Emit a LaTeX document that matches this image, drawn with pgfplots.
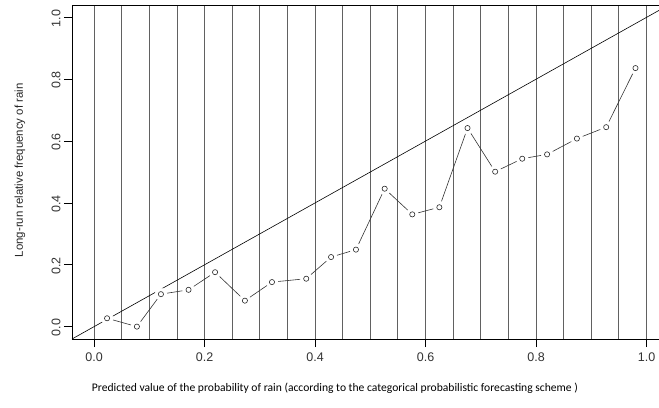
\documentclass[border=0pt]{standalone}
\usepackage{pgfplots}
\pgfplotsset{compat=1.18}
\usepackage{fontspec}
\setmainfont{Liberation Sans}
\newfontfamily\carlito{Carlito}
\begin{document}
\begin{tikzpicture}
\begin{axis}[
  scale only axis,
  width=587bp, height=334bp,
  xmin=-0.04, xmax=1.0226,
  ymin=-0.04, ymax=1.04,
  axis lines=left,
  axis line style={-, black, line width=0.6pt},
  tick align=outside,
  major tick length=8bp,
  minor tick length=0pt,
  tick style={black, line width=0.6pt},
  xtick={0,0.2,0.4,0.6,0.8,1.0},
  minor xtick={0.05,0.1,0.15,0.25,0.3,0.35,0.45,0.5,0.55,0.65,0.7,0.75,0.85,0.9,0.95},
  ytick={0,0.2,0.4,0.6,0.8,1.0},
  xmajorgrids, xminorgrids,
  grid style={color=black!62, line width=0.9pt},
  minor grid style={color=black!62, line width=0.9pt},
  /pgf/number format/assume math mode=true,
  /pgf/number format/fixed,
  /pgf/number format/fixed zerofill,
  /pgf/number format/precision=1,
  xticklabel style={font=\fontsize{12.5bp}{14bp}\selectfont, color=black!80, yshift=-2bp},
  yticklabel style={font=\fontsize{12.5bp}{14bp}\selectfont, color=black!80, rotate=90, anchor=south, xshift=-1bp},
  xlabel={Predicted value of the probability of rain (according to the categorical probabilistic forecasting scheme )},
  xlabel style={font=\carlito\fontsize{11.6bp}{13bp}\selectfont, at={(axis description cs:0.448,-0.146)}, anchor=center},
  ylabel={Long-run relative frequency of rain},
  ylabel style={font=\fontsize{11.4bp}{13bp}\selectfont, color=black!85, at={(axis description cs:-0.0886,0.505)}, anchor=center, rotate=0},
]
\coordinate (sw) at (rel axis cs:0,0);
\coordinate (ne) at (rel axis cs:1,1);
\addplot[black, line width=0.6pt] coordinates {(-0.04,-0.04) (1.04,1.04)};
\addplot[black!80, line width=0.6pt, mark=none] coordinates {
(0.0235,0.027) (0.0775,0.000) (0.121,0.105) (0.171,0.119) (0.219,0.176)
(0.273,0.084) (0.322,0.144) (0.384,0.155) (0.429,0.225) (0.474,0.249)
(0.526,0.446) (0.576,0.363) (0.625,0.386) (0.676,0.642) (0.726,0.501)
(0.775,0.543) (0.820,0.557) (0.874,0.608) (0.927,0.645) (0.980,0.836)};
\addplot[only marks, mark=*, mark size=6bp, mark options={draw=white, fill=white}] coordinates {
(0.0235,0.027) (0.0775,0.000) (0.121,0.105) (0.171,0.119) (0.219,0.176)
(0.273,0.084) (0.322,0.144) (0.384,0.155) (0.429,0.225) (0.474,0.249)
(0.526,0.446) (0.576,0.363) (0.625,0.386) (0.676,0.642) (0.726,0.501)
(0.775,0.543) (0.820,0.557) (0.874,0.608) (0.927,0.645) (0.980,0.836)};
\addplot[only marks, mark=o, mark size=2.6bp, mark options={draw=black!85, line width=0.6pt}] coordinates {
(0.0235,0.027) (0.0775,0.000) (0.121,0.105) (0.171,0.119) (0.219,0.176)
(0.273,0.084) (0.322,0.144) (0.384,0.155) (0.429,0.225) (0.474,0.249)
(0.526,0.446) (0.576,0.363) (0.625,0.386) (0.676,0.642) (0.726,0.501)
(0.775,0.543) (0.820,0.557) (0.874,0.608) (0.927,0.645) (0.980,0.836)};
\end{axis}
\draw[black, line width=0.6pt] (sw |- ne) -- (ne);
\pgfresetboundingbox
\path ([shift={(-72bp,-69bp)}]sw) rectangle ([shift={(0bp,5bp)}]ne);
\end{tikzpicture}
\end{document}
